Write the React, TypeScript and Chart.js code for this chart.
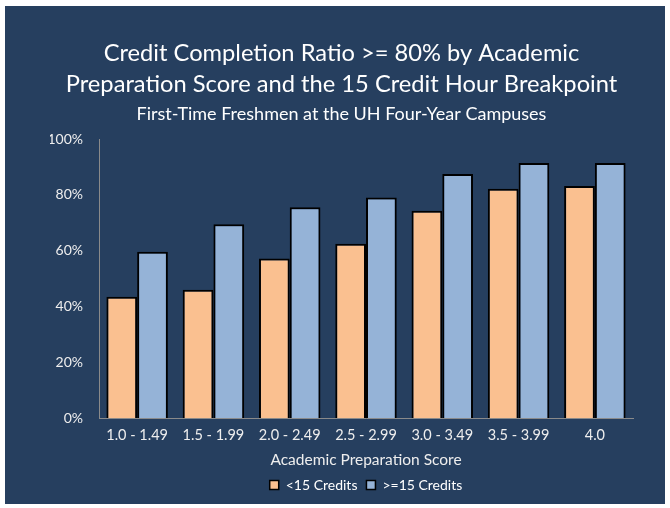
import React, { useEffect, useRef } from "react";
import { Chart, registerables } from "chart.js";

Chart.register(...registerables);

const categories = ["1.0 - 1.49", "1.5 - 1.99", "2.0 - 2.49", "2.5 - 2.99", "3.0 - 3.49", "3.5 - 3.99", "4.0"];
const under15 = [0.435, 0.46, 0.572, 0.625, 0.743, 0.822, 0.832];
const over15 = [0.596, 0.695, 0.756, 0.791, 0.875, 0.915, 0.915];
const seriesNames = ["<15 Credits", ">=15 Credits"];
const titleLines = ["Credit Completion Ratio >= 80% by Academic", "Preparation Score and the 15 Credit Hour Breakpoint"];
const subtitleText = "First-Time Freshmen at the UH Four-Year Campuses";
const xAxisTitle = "Academic Preparation Score";

const FONT = "Lato, 'Open Sans', sans-serif";
const NAVY = "#263f5f";

const bgPlugin = {
  id: "bg",
  beforeDraw(chart: any) {
    const ctx = chart.ctx;
    ctx.save();
    ctx.fillStyle = "#ffffff";
    ctx.fillRect(0, 0, chart.width, chart.height);
    ctx.fillStyle = NAVY;
    ctx.fillRect(5, 6, 660, 498);
    ctx.restore();
  },
};

export default function App() {
  const ref = useRef<HTMLCanvasElement | null>(null);
  useEffect(() => {
    document.body.style.margin = "0";
    const chart = new Chart(ref.current!, {
      type: "bar",
      data: {
        labels: categories,
        datasets: [
          {
            label: seriesNames[0],
            data: under15,
            backgroundColor: "#fac090",
            borderColor: "#000000",
            borderWidth: { top: 2, left: 2, right: 2, bottom: 0 },
            borderSkipped: "bottom",
            categoryPercentage: 0.806,
            barPercentage: 1,
          },
          {
            label: seriesNames[1],
            data: over15,
            backgroundColor: "#95b3d7",
            borderColor: "#000000",
            borderWidth: { top: 2, left: 2, right: 2, bottom: 0 },
            borderSkipped: "bottom",
            categoryPercentage: 0.806,
            barPercentage: 1,
          },
        ],
      },
      options: {
        animation: false,
        responsive: false,
        maintainAspectRatio: false,
        layout: { padding: { top: 0, left: 50, right: 37, bottom: 6 } },
        plugins: {
          title: {
            display: true,
            text: titleLines,
            color: "#ffffff",
            font: { family: FONT, size: 23.7, weight: "normal", lineHeight: 1.3 },
            padding: { top: 38, bottom: 4 },
          },
          subtitle: {
            display: true,
            text: subtitleText,
            color: "#ffffff",
            font: { family: FONT, size: 18, weight: "normal" },
            padding: { top: 0, bottom: 14 },
          },
          legend: {
            position: "bottom",
            fullSize: false,
            labels: {
              color: "#ffffff",
              font: { family: FONT, size: 14 },
              boxWidth: 9,
              boxHeight: 9,
              padding: 9,
            },
          },
          tooltip: { enabled: false },
        },
        scales: {
          x: {
            grid: { display: false, tickLength: 4 },
            border: { color: "#8a8a8a", width: 1 },
            ticks: { color: "#eeeeee", font: { family: FONT, size: 14.5 }, maxRotation: 0, padding: 5 },
            title: {
              display: true,
              text: xAxisTitle,
              color: "#eeeeee",
              font: { family: FONT, size: 15.5 },
              padding: { top: 1, bottom: 0 },
            },
          },
          y: {
            min: 0,
            max: 1,
            grid: { display: false, tickLength: 0 },
            border: { color: "#8a8a8a", width: 1 },
            afterFit: (scale: any) => {
              scale.width = 49;
            },
            ticks: {
              stepSize: 0.2,
              color: "#eeeeee",
              font: { family: FONT, size: 14 },
              padding: 16,
              callback: (v: any) => Math.round(Number(v) * 100) + "%",
            },
          },
        },
      },
      plugins: [bgPlugin],
    });
    return () => chart.destroy();
  }, []);
  return (
    <div style={{ position: "absolute", left: 0, top: 0, width: 670, height: 508 }}>
      <canvas ref={ref} width={670} height={508} style={{ width: 670, height: 508, display: "block" }} />
    </div>
  );
}
